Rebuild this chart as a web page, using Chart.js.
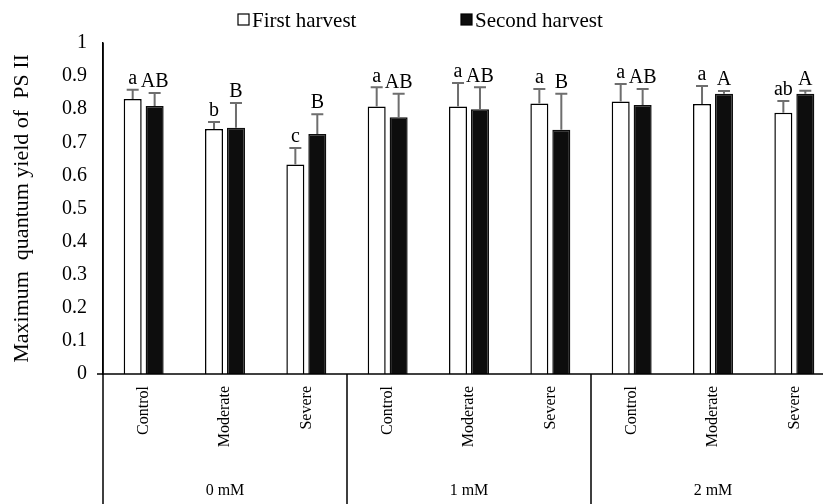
<!DOCTYPE html>
<html>
<head>
<meta charset="utf-8">
<script src="https://cdn.jsdelivr.net/npm/chart.js@4.4.0/dist/chart.umd.min.js"></script>
<style>
  html, body { margin: 0; padding: 0; background: #fff; overflow: hidden; }
</style>
</head>
<body>
<canvas id="chart" width="840" height="504"></canvas>
<script>
const categories = ['Control', 'Moderate', 'Severe', 'Control', 'Moderate', 'Severe', 'Control', 'Moderate', 'Severe'];
const groups = ['0 mM', '1 mM', '2 mM'];
const yTicks = [0, 0.1, 0.2, 0.3, 0.4, 0.5, 0.6, 0.7, 0.8, 0.9, 1];

const firstHarvest = [0.831, 0.740, 0.633, 0.808, 0.808, 0.817, 0.823, 0.816, 0.789];
const firstErr = [0.028, 0.021, 0.050, 0.058, 0.071, 0.044, 0.053, 0.054, 0.036];
const firstLetters = ['a', 'b', 'c', 'a', 'a', 'a', 'a', 'a', 'ab'];

const secondHarvest = [0.810, 0.744, 0.725, 0.776, 0.800, 0.738, 0.813, 0.847, 0.847];
const secondErr = [0.039, 0.075, 0.060, 0.071, 0.066, 0.109, 0.048, 0.008, 0.009];
const secondLetters = ['AB', 'B', 'B', 'AB', 'AB', 'B', 'AB', 'A', 'A'];

const serif = '"Liberation Serif", "Times New Roman", serif';

// error bars, letters, group axis and legend
const extras = {
  id: 'extras',
  afterDatasetsDraw(chart) {
    const ctx = chart.ctx;
    const y = chart.scales.y;
    const sets = [[firstHarvest, firstErr, firstLetters], [secondHarvest, secondErr, secondLetters]];
    sets.forEach((set, di) => {
      chart.getDatasetMeta(di).data.forEach((bar, i) => {
        const base = y.getPixelForValue(set[0][i]);
        const top = y.getPixelForValue(set[0][i] + set[1][i]);
        ctx.save();
        ctx.strokeStyle = '#6e6e6e';
        ctx.lineWidth = 2;
        ctx.beginPath();
        ctx.moveTo(bar.x, base);
        ctx.lineTo(bar.x, top);
        ctx.moveTo(bar.x - 6, top);
        ctx.lineTo(bar.x + 6, top);
        ctx.stroke();
        ctx.fillStyle = '#000';
        ctx.font = '20px ' + serif;
        ctx.textAlign = 'center';
        ctx.textBaseline = 'bottom';
        ctx.fillText(set[2][i], bar.x, top - 1);
        ctx.restore();
      });
    });
  },
  afterDraw(chart) {
    const ctx = chart.ctx;
    const x = chart.scales.x;
    const area = chart.chartArea;
    const h = chart.height;
    ctx.save();
    ctx.strokeStyle = '#000';
    ctx.lineWidth = 1.5;
    // x axis line, a little past the y axis
    ctx.beginPath();
    ctx.moveTo(area.left - 6, area.bottom);
    ctx.lineTo(area.right, area.bottom);
    ctx.stroke();
    // group separators down to the bottom
    const bounds = [area.left];
    for (let g = 1; g < groups.length; g++) {
      bounds.push((x.getPixelForValue(g * 3 - 1) + x.getPixelForValue(g * 3)) / 2);
    }
    bounds.push(area.right);
    ctx.beginPath();
    for (let g = 0; g < groups.length; g++) {
      ctx.moveTo(bounds[g], g > 0 ? area.bottom : area.top);
      ctx.lineTo(bounds[g], h);
    }
    ctx.stroke();
    ctx.fillStyle = '#000';
    ctx.font = '16px ' + serif;
    ctx.textAlign = 'center';
    ctx.textBaseline = 'middle';
    groups.forEach((g, i) => ctx.fillText(g, (bounds[i] + bounds[i + 1]) / 2, 491));

    // legend
    const items = [
      { text: 'First harvest', fill: '#fff', x: 238 },
      { text: 'Second harvest', fill: '#0d0d0d', x: 461 }
    ];
    ctx.font = '21px ' + serif;
    ctx.textAlign = 'left';
    items.forEach(it => {
      ctx.fillStyle = it.fill;
      ctx.fillRect(it.x, 14, 11, 11);
      ctx.lineWidth = 1.2;
      ctx.strokeStyle = '#000';
      ctx.strokeRect(it.x, 14, 11, 11);
      ctx.fillStyle = '#000';
      ctx.fillText(it.text, it.x + 14, 21);
    });
    ctx.restore();
  }
};

new Chart(document.getElementById('chart'), {
  type: 'bar',
  data: {
    labels: categories,
    datasets: [{
      label: 'First harvest',
      data: firstHarvest,
      backgroundColor: '#ffffff',
      borderColor: '#000000',
      borderWidth: 1.5,
      barPercentage: 0.82,
      categoryPercentage: 0.54
    }, {
      label: 'Second harvest',
      data: secondHarvest,
      backgroundColor: '#0d0d0d',
      borderColor: '#0d0d0d',
      borderWidth: 1.5,
      barPercentage: 0.82,
      categoryPercentage: 0.54
    }]
  },
  options: {
    responsive: false,
    animation: false,
    layout: { padding: { top: 43, right: 5, left: 0, bottom: 0 } },
    plugins: {
      legend: { display: false },
      tooltip: { enabled: false }
    },
    scales: {
      x: {
        grid: { display: false },
        border: { display: false },
        ticks: {
          color: '#000',
          font: { family: serif, size: 16 },
          minRotation: 90,
          maxRotation: 90,
          padding: 4
        },
        afterFit(scale) { scale.height = 130; }
      },
      y: {
        min: 0,
        max: 1,
        afterBuildTicks(scale) { scale.ticks = yTicks.map(v => ({ value: v })); },
        grid: { display: false, drawTicks: false },
        border: { display: true, color: '#000', width: 1.5 },
        ticks: {
          color: '#000',
          font: { family: serif, size: 20 },
          padding: 16,
          callback: v => String(Math.round(v * 10) / 10)
        },
        title: {
          display: true,
          text: 'Maximum  quantum yield of  PS II',
          color: '#000',
          font: { family: serif, size: 22 },
          padding: { top: 9, bottom: 0 }
        },
        afterFit(scale) { scale.width = 103; }
      }
    }
  },
  plugins: [extras]
});
</script>
</body>
</html>
